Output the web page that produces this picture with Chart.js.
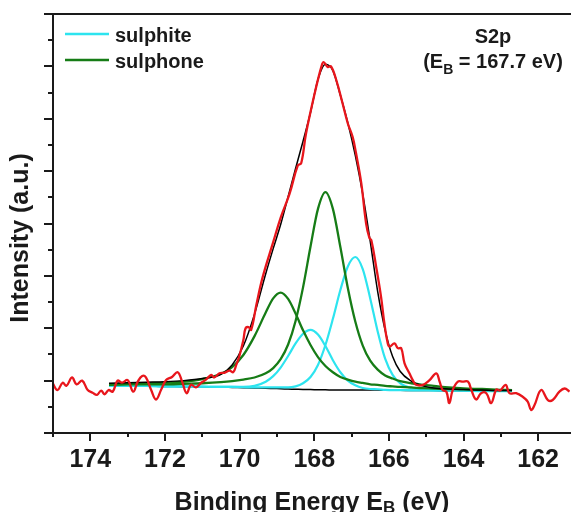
<!DOCTYPE html>
<html>
<head>
<meta charset="utf-8">
<script src="https://cdn.jsdelivr.net/npm/chart.js@4.4.1/dist/chart.umd.min.js"></script>
<style>
  html, body { margin: 0; padding: 0; background: #fff; }
</style>
</head>
<body>
<canvas id="xps" width="571" height="512"></canvas>
<script>
// S2p region: fitted components share one energy grid (eV)
const fitEnergy = [173.5, 173.0, 172.5, 172.0, 171.5, 171.0, 170.5, 170.2, 169.9, 169.6,
  169.3, 169.1, 168.9, 168.7, 168.5, 168.3, 168.1, 167.9, 167.7, 167.5,
  167.3, 167.1, 166.9, 166.7, 166.5, 166.3, 166.1, 165.9, 165.7,
  165.4, 165.1, 164.8, 164.4, 164.0, 163.5, 163.0, 162.7];

const background = [0.90, 0.90, 0.895, 0.89, 0.885, 0.88, 0.875, 0.87, 0.865, 0.86,
  0.855, 0.85, 0.845, 0.84, 0.835, 0.83, 0.83, 0.825, 0.825, 0.82,
  0.82, 0.82, 0.82, 0.82, 0.82, 0.82, 0.815, 0.815, 0.815,
  0.81, 0.81, 0.81, 0.805, 0.805, 0.80, 0.80, 0.80];

const sulphiteA = [0.90, 0.90, 0.90, 0.89, 0.89, 0.885, 0.88, 0.88, 0.875, 0.87,
  0.87, 0.87, 0.87, 0.87, 0.89, 0.95, 1.07, 1.30, 1.68, 2.18,
  2.73, 3.18, 3.36, 3.13, 2.57, 1.94, 1.42, 1.11, 0.95,
  0.86, 0.84, 0.83, 0.82, 0.815, 0.81, 0.805, 0.805];

const sulphiteB = [0.90, 0.90, 0.90, 0.89, 0.89, 0.885, 0.88, 0.88, 0.88, 0.90,
  0.98, 1.085, 1.25, 1.47, 1.71, 1.895, 1.97, 1.88, 1.66, 1.39,
  1.16, 1.00, 0.91, 0.86, 0.84, 0.835, 0.825, 0.82, 0.82,
  0.815, 0.815, 0.81, 0.81, 0.81, 0.80, 0.80, 0.80];

const sulphoneA = [0.92, 0.93, 0.93, 0.93, 0.94, 0.95, 0.97, 0.99, 1.02, 1.06,
  1.14, 1.24, 1.41, 1.69, 2.14, 2.78, 3.56, 4.28, 4.60, 4.28,
  3.55, 2.77, 2.13, 1.67, 1.38, 1.21, 1.10, 1.04, 0.99,
  0.95, 0.92, 0.90, 0.87, 0.85, 0.84, 0.825, 0.82];

const sulphoneB = [0.93, 0.94, 0.95, 0.96, 0.98, 1.03, 1.13, 1.26, 1.49, 1.85,
  2.30, 2.57, 2.68, 2.56, 2.28, 1.96, 1.68, 1.45, 1.28, 1.16,
  1.07, 1.02, 0.98, 0.955, 0.93, 0.92, 0.90, 0.89, 0.88,
  0.87, 0.855, 0.85, 0.84, 0.835, 0.825, 0.82, 0.82];

const envelope = [0.95, 0.96, 0.97, 0.98, 1.00, 1.04, 1.12, 1.30, 1.66, 2.27,
  3.04, 3.52, 3.98, 4.51, 5.05, 5.57, 6.12, 6.75, 7.04, 6.92,
  6.45, 5.92, 5.30, 4.56, 3.66, 2.70, 1.96, 1.46, 1.18,
  0.99, 0.90, 0.86, 0.84, 0.83, 0.82, 0.81, 0.81];

// measured spectrum
const rawEnergy = [175.01, 174.88, 174.74, 174.64, 174.49, 174.37, 174.22, 174.07, 173.94, 173.82,
  173.71, 173.62, 173.51, 173.40, 173.27, 173.15, 173.00, 172.85, 172.73, 172.61,
  172.51, 172.37, 172.24, 172.10, 171.97, 171.81, 171.66, 171.54, 171.42, 171.30,
  171.17, 171.03, 170.90, 170.76, 170.68, 170.54, 170.41, 170.27, 170.17, 170.09,
  170.01, 169.90, 169.84, 169.76, 169.69, 169.55, 169.38, 169.11, 168.89, 168.66,
  168.44, 168.35, 168.22, 167.99, 167.81, 167.75, 167.64, 167.55, 167.41, 167.24,
  167.10, 166.97, 166.88, 166.74, 166.61, 166.52, 166.47, 166.34, 166.21, 166.12,
  166.03, 165.98, 165.85, 165.76, 165.67, 165.58, 165.45, 165.36, 165.27, 165.09,
  164.91, 164.73, 164.64, 164.56, 164.46, 164.38, 164.29, 164.15, 164.02, 163.88,
  163.79, 163.66, 163.53, 163.39, 163.26, 163.12, 163.02, 162.87, 162.77, 162.59,
  162.41, 162.28, 162.19, 162.10, 161.92, 161.74, 161.61, 161.43, 161.29, 161.16];

const rawCounts = [0.95, 0.82, 0.96, 0.90, 1.06, 0.93, 1.00, 0.82, 0.77, 0.73,
  0.81, 0.74, 0.82, 0.79, 1.00, 0.96, 1.01, 0.79, 0.98, 1.09,
  1.06, 0.82, 0.64, 0.83, 1.01, 1.07, 1.16, 0.98, 0.76, 0.92,
  0.87, 0.96, 1.02, 1.11, 1.06, 1.14, 1.15, 1.19, 1.16, 1.30,
  1.46, 1.77, 2.00, 2.02, 1.97, 2.45, 2.98, 3.62, 4.13, 4.57,
  5.11, 5.15, 5.72, 6.48, 6.99, 7.08, 6.99, 7.00, 6.74, 6.29,
  5.91, 5.65, 5.34, 4.77, 4.00, 3.72, 3.68, 3.17, 2.60, 2.09,
  1.71, 1.65, 1.71, 1.62, 1.62, 1.33, 1.14, 1.01, 0.92, 0.92,
  1.01, 1.14, 0.98, 0.82, 0.79, 0.57, 0.82, 0.98, 0.98, 0.98,
  0.82, 0.64, 0.76, 0.76, 0.57, 0.83, 0.81, 0.92, 0.76, 0.76,
  0.69, 0.60, 0.44, 0.53, 0.82, 0.63, 0.63, 0.79, 0.85, 0.79];

const xTickValues = [174, 172, 170, 168, 166, 164, 162];

const RED = '#e8161c';
const GREEN = '#167c16';
const CYAN = '#2de4ef';
const INK = '#1a1a1a';
const FONT = '"Liberation Sans", Arial, sans-serif';

const legendItems = [
  { text: 'sulphite', color: CYAN },
  { text: 'sulphone', color: GREEN }
];

const pts = (xs, ys) => xs.map((x, i) => ({ x: x, y: ys[i] }));

function line(data, color, width) {
  return {
    data: data,
    borderColor: color,
    borderWidth: width,
    pointRadius: 0,
    fill: false,
    cubicInterpolationMode: 'monotone'
  };
}

// writes a run of text pieces [text, font, baseline shift] centred on cx
function textRun(ctx, pieces, cx, y) {
  let w = 0;
  pieces.forEach(p => { ctx.font = p[1]; w += ctx.measureText(p[0]).width; });
  let x = cx - w / 2;
  ctx.textAlign = 'left';
  ctx.textBaseline = 'alphabetic';
  pieces.forEach(p => {
    ctx.font = p[1];
    ctx.fillText(p[0], x, y + p[2]);
    x += ctx.measureText(p[0]).width;
  });
}

const frame = {
  id: 'frame',
  afterDraw(chart) {
    const { ctx, chartArea: a, scales: { x, y } } = chart;
    ctx.save();
    ctx.strokeStyle = INK;
    ctx.lineWidth = 2;
    ctx.beginPath();
    // axes and the top edge
    ctx.moveTo(a.left, a.top);
    ctx.lineTo(a.left, a.bottom + 4);
    ctx.moveTo(a.left - 9, a.bottom);
    ctx.lineTo(a.right, a.bottom);
    ctx.moveTo(a.left - 9, a.top);
    ctx.lineTo(a.right, a.top);
    // intensity ticks: long on whole units, short on halves
    for (let v = 0.5; v < y.max; v += 0.5) {
      const py = Math.round(y.getPixelForValue(v));
      ctx.moveTo(a.left - (v % 1 === 0 ? 9 : 5), py);
      ctx.lineTo(a.left, py);
    }
    // energy ticks every 1 eV, longer where labelled
    for (let e = Math.ceil(x.min); e < x.max; e++) {
      const px = Math.round(x.getPixelForValue(e));
      ctx.moveTo(px, a.bottom);
      ctx.lineTo(px, a.bottom + (e % 2 === 0 ? 8 : 4));
    }
    ctx.stroke();

    ctx.fillStyle = INK;
    ctx.textAlign = 'center';
    ctx.textBaseline = 'alphabetic';
    ctx.font = 'bold 25px ' + FONT;
    xTickValues.forEach(v => {
      ctx.fillText(String(v), x.getPixelForValue(v), 467);
    });

    const big = 'bold 25px ' + FONT;
    textRun(ctx, [['Binding Energy E', big, 0], ['B', 'bold 17px ' + FONT, 3], [' (eV)', big, 0]],
      (a.left + a.right) / 2, 510);

    ctx.save();
    ctx.translate(28, 238);
    ctx.rotate(-Math.PI / 2);
    ctx.textAlign = 'center';
    ctx.font = big;
    ctx.fillText('Intensity (a.u.)', 0, 0);
    ctx.restore();

    // legend
    legendItems.forEach((item, i) => {
      const ly = 34 + i * 26;
      ctx.strokeStyle = item.color;
      ctx.lineWidth = 2.5;
      ctx.beginPath();
      ctx.moveTo(65, ly);
      ctx.lineTo(109, ly);
      ctx.stroke();
      ctx.fillStyle = INK;
      ctx.textAlign = 'left';
      ctx.font = 'bold 20px ' + FONT;
      ctx.fillText(item.text, 115, ly + 8);
    });

    const mid = 'bold 20px ' + FONT;
    textRun(ctx, [['S2p', mid, 0]], 493, 43);
    textRun(ctx, [['(E', mid, 0], ['B', 'bold 14px ' + FONT, 6], [' = 167.7 eV)', mid, 0]], 493, 68);
    ctx.restore();
  }
};

// the raw trace uses plain bezier smoothing instead of monotone splines
const rawTrace = line(pts(rawEnergy, rawCounts), RED, 2.3);
rawTrace.cubicInterpolationMode = 'default';
rawTrace.tension = 0.4;

new Chart(document.getElementById('xps'), {
  type: 'line',
  data: {
    datasets: [
      rawTrace,
      line(pts(fitEnergy, envelope), '#000', 1.5),
      line(pts(fitEnergy, sulphoneA), GREEN, 2.3),
      line(pts(fitEnergy, sulphoneB), GREEN, 2.3),
      line(pts(fitEnergy, sulphiteA), CYAN, 2.2),
      line(pts(fitEnergy, sulphiteB), CYAN, 2.2),
      line(pts(fitEnergy, background), '#000', 1.5)
    ]
  },
  options: {
    responsive: false,
    animation: false,
    devicePixelRatio: 1,
    layout: { padding: { top: 14, right: 0, left: 0, bottom: 0 } },
    plugins: { legend: { display: false }, tooltip: { enabled: false } },
    scales: {
      x: {
        type: 'linear',
        reverse: true,
        min: 161.12,
        max: 175,
        grid: { display: false, drawTicks: false },
        border: { display: false },
        ticks: { display: false },
        afterFit(s) { s.height = 79; }
      },
      y: {
        min: 0,
        max: 8,
        grid: { display: false, drawTicks: false },
        border: { display: false },
        ticks: { display: false },
        afterFit(s) { s.width = 53; }
      }
    }
  },
  plugins: [frame]
});
</script>
</body>
</html>
